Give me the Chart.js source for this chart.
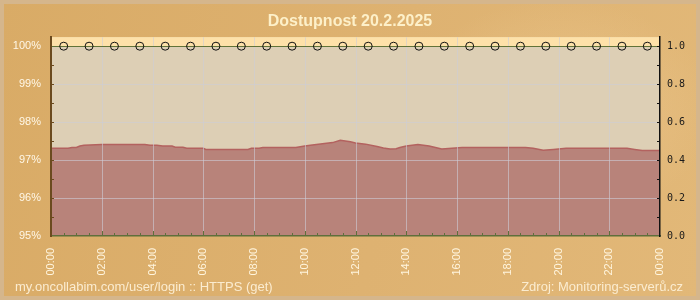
<!DOCTYPE html>
<html>
<head>
<meta charset="utf-8">
<script src="https://cdn.jsdelivr.net/npm/chart.js@4.4.1/dist/chart.umd.min.js"></script>
<style>
  body { margin: 0; }
  #wrap {
    position: relative; width: 700px; height: 300px; overflow: hidden;
    background:
      radial-gradient(ellipse 220px 160px at 560px 110px, rgba(240,205,150,0.55), rgba(240,205,150,0) 70%),
      linear-gradient(100deg, #d9ab66 0%, #deb271 55%, #e2b878 100%);
    box-shadow: inset 0 0 0 4px #d5b68c;
  }
  #c { position: absolute; left: 0; top: 0; }
  .foot {
    position: absolute; top: 280px; font: 13px "Liberation Sans", Arial, sans-serif;
    line-height: 13px; color: #fbecd0; white-space: nowrap;
  }
</style>
</head>
<body>
<div id="wrap">
  <canvas id="c" width="700" height="300"></canvas>
  <div class="foot" style="left:15px">my.oncollabim.com/user/login :: HTTPS (get)</div>
  <div class="foot" style="right:17px">Zdroj: Monitoring-serverů.cz</div>
</div>
<script>
// long term availability (area), hours -> percent
var areaHours = [0, 0.67, 0.83, 1.0, 1.14, 1.3, 2.0, 3.7, 3.9, 4.17, 4.4, 4.77, 4.9, 5.2, 5.35, 6.0, 6.1, 7.76, 7.9, 8.2, 8.35, 9.65, 10.0, 10.3, 10.7, 11.1, 11.4, 11.8, 12.0, 12.4, 12.85, 13.1, 13.36, 13.6, 13.75, 14.0, 14.46, 14.9, 15.4, 15.8, 16.2, 18.7, 19.0, 19.4, 19.8, 20.3, 22.7, 23.0, 23.3, 24];
var areaValues = [97.31, 97.31, 97.33, 97.33, 97.37, 97.39, 97.41, 97.41, 97.39, 97.39, 97.37, 97.37, 97.34, 97.34, 97.31, 97.31, 97.28, 97.28, 97.31, 97.31, 97.33, 97.33, 97.37, 97.40, 97.43, 97.46, 97.52, 97.48, 97.45, 97.42, 97.36, 97.32, 97.29, 97.30, 97.33, 97.37, 97.41, 97.37, 97.29, 97.31, 97.33, 97.33, 97.31, 97.26, 97.28, 97.31, 97.31, 97.28, 97.25, 97.25];

// hourly availability (markers)
var hourCenters = [0.5, 1.5, 2.5, 3.5, 4.5, 5.5, 6.5, 7.5, 8.5, 9.5, 10.5, 11.5, 12.5, 13.5, 14.5, 15.5, 16.5, 17.5, 18.5, 19.5, 20.5, 21.5, 22.5, 23.5];
var hourlyAvailability = [100, 100, 100, 100, 100, 100, 100, 100, 100, 100, 100, 100, 100, 100, 100, 100, 100, 100, 100, 100, 100, 100, 100, 100];

var xTickHours = [0, 2, 4, 6, 8, 10, 12, 14, 16, 18, 20, 22, 24];
var xTickLabels = ['00:00', '02:00', '04:00', '06:00', '08:00', '10:00', '12:00', '14:00', '16:00', '18:00', '20:00', '22:00', '00:00'];
var yTickValues = [95, 96, 97, 98, 99, 100];
var yTickLabels = ['95%', '96%', '97%', '98%', '99%', '100%'];
var y2TickValues = [0, 0.2, 0.4, 0.6, 0.8, 1.0];
var y2TickLabels = ['0.0', '0.2', '0.4', '0.6', '0.8', '1.0'];

var labelFont = { family: 'Liberation Sans', size: 11 };

function fixedTicks(values) {
  return function (scale) {
    scale.ticks = values.map(function (v) { return { value: v }; });
  };
}

var deco = {
  id: 'deco',
  beforeDatasetsDraw: function (chart) {
    var ctx = chart.ctx, a = chart.chartArea, y = chart.scales.y;
    var y100 = y.getPixelForValue(100);
    ctx.save();
    ctx.fillStyle = '#ddcfb5';
    ctx.fillRect(a.left, a.top, a.right - a.left, a.bottom - a.top);
    ctx.fillStyle = '#fee1a9';
    ctx.fillRect(a.left, a.top, a.right - a.left, y100 - a.top);
    ctx.restore();
  },
  afterDatasetDraw: function (chart, args) {
    if (args.index !== 0) return;
    var ctx = chart.ctx, a = chart.chartArea, x = chart.scales.x, y = chart.scales.y;
    ctx.save();
    ctx.lineWidth = 1;
    ctx.strokeStyle = 'rgba(205,205,215,0.6)';
    for (var h = 2; h < 24; h += 2) {
      var px = Math.round(x.getPixelForValue(h)) + 0.5;
      ctx.beginPath(); ctx.moveTo(px, a.top); ctx.lineTo(px, a.bottom); ctx.stroke();
    }
    for (var v = 96; v < 100; v++) {
      var py = Math.round(y.getPixelForValue(v)) + 0.5;
      ctx.beginPath(); ctx.moveTo(a.left, py); ctx.lineTo(a.right, py); ctx.stroke();
    }
    var p100 = Math.round(y.getPixelForValue(100)) + 0.5;
    ctx.strokeStyle = '#627338';
    ctx.beginPath(); ctx.moveTo(a.left, p100); ctx.lineTo(a.right, p100); ctx.stroke();
    ctx.restore();
  },
  afterDraw: function (chart) {
    var ctx = chart.ctx, a = chart.chartArea;
    var x = chart.scales.x, y = chart.scales.y, y2 = chart.scales.y2;
    ctx.save();
    ctx.lineWidth = 1;
    // bottom ticks, every half hour, pointing up
    ctx.strokeStyle = '#5f6f3c';
    for (var i = 1; i < 48; i++) {
      var px = Math.round(x.getPixelForValue(i / 2)) + 0.5;
      var len = (i % 4 === 0) ? 5 : 3;
      ctx.beginPath(); ctx.moveTo(px, a.bottom); ctx.lineTo(px, a.bottom - len); ctx.stroke();
    }
    // left ticks, every half percent
    ctx.strokeStyle = '#6b4a1e';
    for (var j = 1; j < 10; j++) {
      var py = Math.round(y.getPixelForValue(95 + j / 2)) + 0.5;
      ctx.beginPath(); ctx.moveTo(a.left, py); ctx.lineTo(a.left + 3, py); ctx.stroke();
    }
    // right ticks, every 0.1
    ctx.strokeStyle = '#111';
    for (var k = 1; k <= 10; k++) {
      var qy = Math.round(y2.getPixelForValue(k / 10)) + 0.5;
      ctx.beginPath(); ctx.moveTo(a.right - 3, qy); ctx.lineTo(a.right, qy); ctx.stroke();
    }
    ctx.restore();
  }
};

var chart = new Chart(document.getElementById('c'), {
  type: 'line',
  data: {
    datasets: [{
      label: 'area',
      data: areaHours.map(function (h, i) { return { x: h, y: areaValues[i] }; }),
      borderColor: '#b3625f',
      borderWidth: 1.5,
      backgroundColor: '#b8837a',
      fill: 'start',
      pointRadius: 0,
      tension: 0,
      order: 1,
      yAxisID: 'y'
    }, {
      label: 'hourly',
      data: hourCenters.map(function (h, i) { return { x: h, y: hourlyAvailability[i] }; }),
      showLine: false,
      pointRadius: 4,
      pointBorderWidth: 1,
      pointBorderColor: '#111',
      pointBackgroundColor: 'rgba(0,0,0,0)',
      order: 0,
      yAxisID: 'y'
    }]
  },
  options: {
    responsive: false,
    animation: false,
    layout: { padding: 0 },
    plugins: {
      legend: { display: false },
      tooltip: { enabled: false },
      title: {
        display: true,
        text: 'Dostupnost 20.2.2025',
        color: '#fdf0c9',
        font: { family: 'Liberation Sans', size: 16, weight: 'bold' },
        padding: { top: 12, bottom: 6 }
      }
    },
    scales: {
      x: {
        type: 'linear', min: 0, max: 24,
        afterBuildTicks: fixedTicks(xTickHours),
        afterFit: function (s) { s.height = 64; },
        grid: { display: false, drawTicks: false },
        border: { display: true, color: '#5f6f3c', width: 1.5, z: 1 },
        ticks: {
          color: '#fff5de', font: labelFont, padding: 12,
          minRotation: 90, maxRotation: 90, autoSkip: false,
          callback: function (v) { return xTickLabels[xTickHours.indexOf(v)]; }
        }
      },
      y: {
        position: 'left', min: 95, max: 100.237,
        afterBuildTicks: fixedTicks(yTickValues),
        afterFit: function (s) { s.width = 51; },
        grid: { display: false, drawTicks: false },
        border: { display: true, color: '#6b4a1e', width: 2, z: 1 },
        ticks: {
          color: '#fff7e6', font: labelFont, padding: 10,
          callback: function (v) { return yTickLabels[yTickValues.indexOf(v)]; }
        }
      },
      y2: {
        position: 'right', min: 0, max: 1.0474,
        afterBuildTicks: fixedTicks(y2TickValues),
        afterFit: function (s) { s.width = 40; },
        grid: { display: false, drawTicks: false },
        border: { display: true, color: '#111', width: 1.5, z: 1 },
        ticks: {
          color: '#1a1a1a', font: { family: 'DejaVu Sans Mono', size: 10 }, padding: 7,
          callback: function (v) { return y2TickLabels[y2TickValues.indexOf(v)]; }
        }
      }
    }
  },
  plugins: [deco]
});
</script>
</body>
</html>
